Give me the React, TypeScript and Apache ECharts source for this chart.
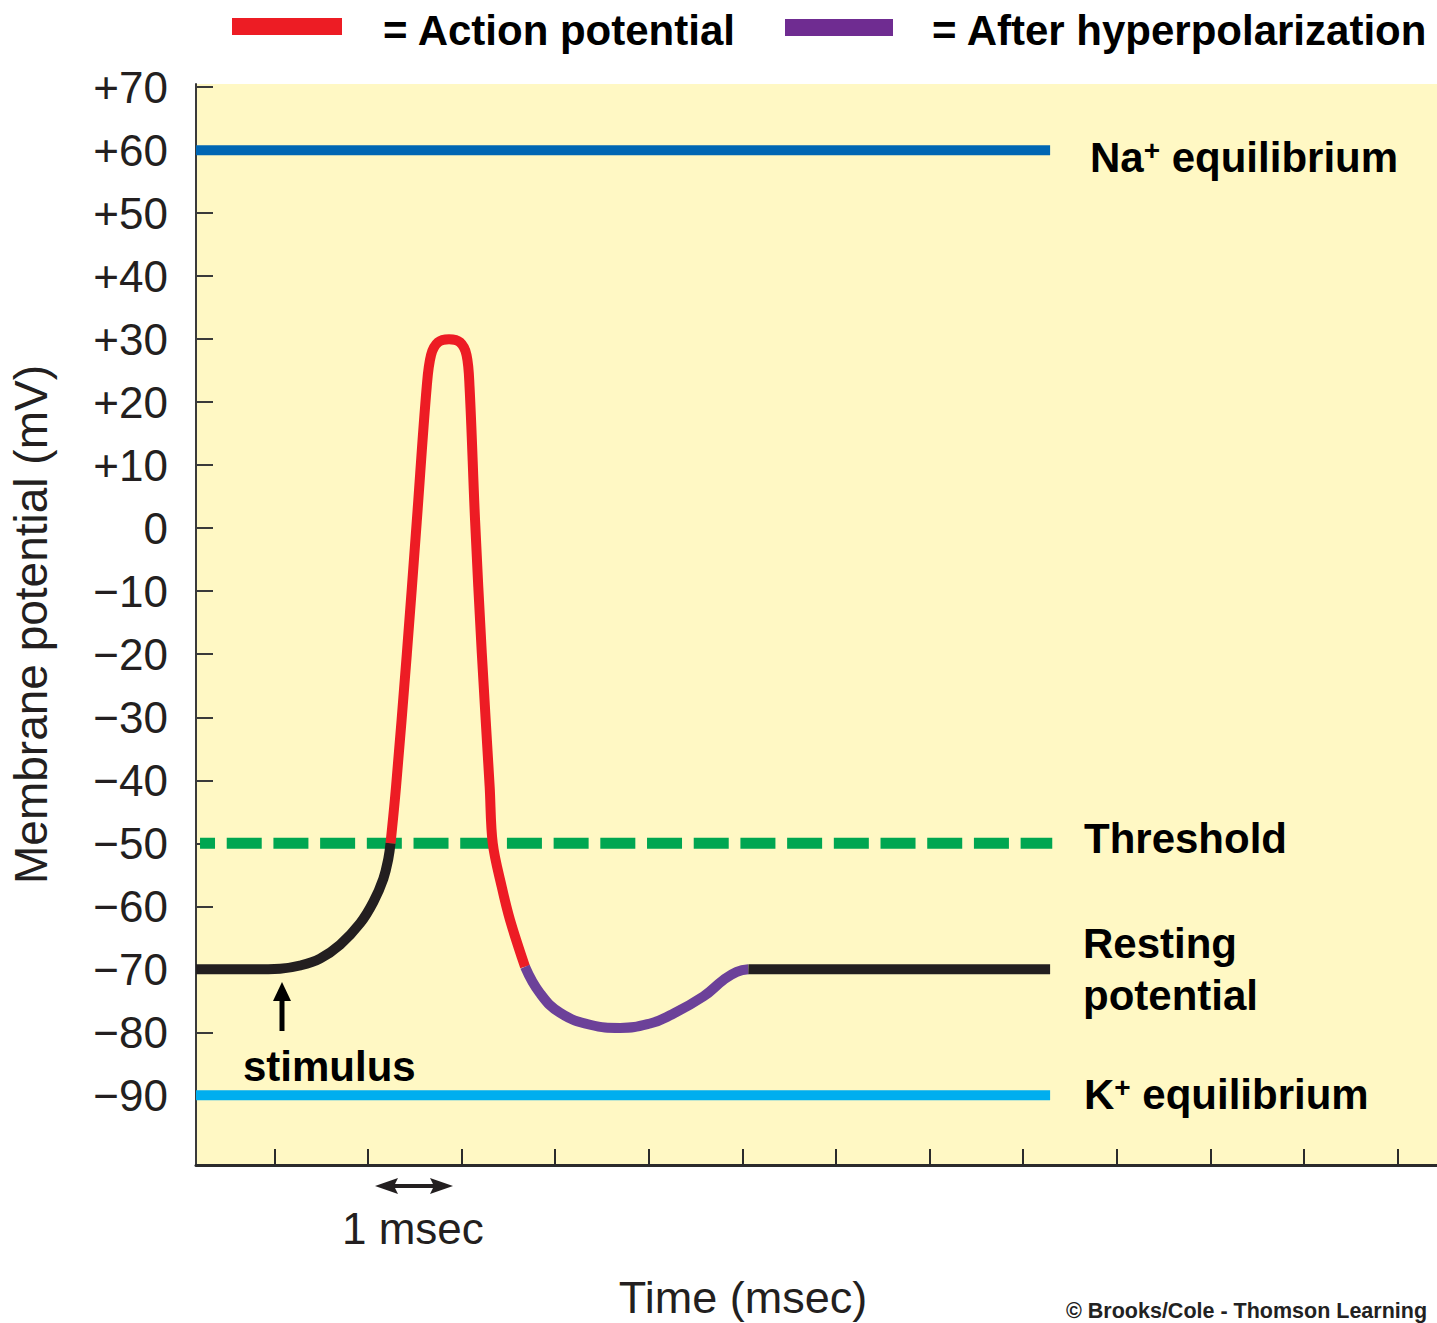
import React, { useEffect, useRef } from "react";
import * as echarts from "echarts";

// ---- axis ticks ----
const yTicks = [-90, -80, -70, -60, -50, -40, -30, -20, -10, 0, 10, 20, 30, 40, 50, 60, 70];
const xTicks = [0, 1, 2, 3, 4, 5, 6, 7, 8, 9, 10, 11, 12];

// ---- reference levels (mV) ----
const naLevel = 60;
const thresholdLevel = -50;
const kLevel = -90;
const levelStart = -0.837;
const levelEnd = 8.287;
const thresholdStart = -0.794;
const thresholdEnd = 8.31;

// ---- membrane potential trace (time in msec, potential in mV) ----
const restT = [-0.837, -0.26, 0.061, 0.275, 0.488, 0.702, 0.916, 1.058, 1.165, 1.218, 1.241];
const restV = [-70, -70, -69.9, -69.4, -68.3, -66.1, -62.7, -59.3, -55.6, -52.4, -50];

const spikeT = [1.241, 1.3, 1.415, 1.521, 1.628, 1.674, 1.749, 1.866, 1.983, 2.053, 2.085, 2.144, 2.216, 2.3, 2.333, 2.429, 2.518, 2.678];
const spikeV = [-50, -41, -20, 1, 22.5, 27.5, 29.5, 30, 29.5, 27.5, 22.5, 1.3, -19.8, -41, -50, -56.9, -62.2, -69.6];

const ahpT = [2.678, 2.838, 3.052, 3.373, 3.694, 4.014, 4.228, 4.584, 4.797, 4.94, 5.064];
const ahpV = [-69.6, -73.8, -76.9, -78.8, -79.3, -78.6, -77.3, -74.3, -71.7, -70.4, -70];

const recoverT = [5.064, 8.287];
const recoverV = [-70, -70];

const FF = "'Liberation Sans', Arial, Helvetica, sans-serif";
const INK = "#231f20";

const zip = (t: number[], v: number[]) => t.map((x, i) => [x, v[i]]);

export default function App() {
  const ref = useRef<HTMLDivElement>(null);

  useEffect(() => {
    document.body.style.margin = "0";
    if (!ref.current) return;
    const chart = echarts.init(ref.current, null, { renderer: "svg" });

    const traceSeries = (data: number[][], color: string, smooth: number) => ({
      type: "line",
      data,
      showSymbol: false,
      symbol: "none",
      smooth,
      silent: true,
      lineStyle: { color, width: 10, cap: "butt" },
    });

    const levelSeries = (y: number, color: string, width: number, extra: any = {}, start = levelStart, end = levelEnd) => ({
      type: "line",
      data: [
        [start, y],
        [end, y],
      ],
      showSymbol: false,
      symbol: "none",
      silent: true,
      lineStyle: { color, width, ...extra },
    });

    const boldText = (text: string, x: number, y: number, size = 42, align = "left") => ({
      type: "text",
      x,
      y,
      style: {
        text,
        x: 0,
        y: 0,
        fontSize: size,
        fontWeight: "bold",
        fontFamily: FF,
        fill: "#000",
        align,
        verticalAlign: "middle",
        textAlign: align,
        textVerticalAlign: "middle",
      },
    });

    const ionText = (ion: string, x: number, y: number) => ({
      type: "text",
      x,
      y,
      style: {
        text: `{b|${ion}}{s|+}{b| equilibrium}`,
        x: 0,
        y: 0,
        align: "left",
        verticalAlign: "middle",
        rich: {
          b: { fontSize: 42, fontWeight: "bold", fontFamily: FF, fill: "#000" },
          s: { fontSize: 28, fontWeight: "bold", fontFamily: FF, fill: "#000", verticalAlign: "top" },
        },
      },
    });

    const option: any = {
      animation: false,
      grid: {
        left: 196,
        top: 84,
        right: 0,
        bottom: 158,
        containLabel: false,
        outerBoundsMode: "none",
        show: true,
        backgroundColor: "#fff8c4",
        borderWidth: 0,
      },
      xAxis: {
        type: "value",
        min: -0.837,
        max: 12.42,
        axisLine: { show: true, onZero: false, lineStyle: { color: "#2b2b2b", width: 3 } },
        axisTick: {
          show: true,
          inside: true,
          length: 16,
          customValues: xTicks,
          lineStyle: { color: "#2b2b2b", width: 2 },
        },
        axisLabel: { show: false },
        splitLine: { show: false },
      },
      yAxis: {
        type: "value",
        min: -101.06,
        max: 70.5,
        name: "Membrane potential (mV)",
        nameLocation: "middle",
        nameRotate: 90,
        nameGap: 142,
        nameTextStyle: { fontSize: 46, color: INK, fontFamily: FF },
        axisLine: { show: true, onZero: false, lineStyle: { color: "#3a3a3a", width: 2 } },
        axisTick: {
          show: true,
          inside: true,
          length: 17,
          customValues: yTicks,
          lineStyle: { color: "#3a3a3a", width: 2 },
        },
        axisLabel: {
          customValues: yTicks,
          margin: 28,
          fontSize: 44,
          color: INK,
          fontFamily: FF,
          formatter: (v: number) => (v > 0 ? "+" + v : v < 0 ? "\u2212" + Math.abs(v) : "0"),
        },
        splitLine: { show: false },
      },
      series: [
        levelSeries(naLevel, "#0066b3", 10),
        levelSeries(kLevel, "#00aeef", 10),
        levelSeries(thresholdLevel, "#00a651", 11, { type: [35, 11.7], dashOffset: 20 }, thresholdStart, thresholdEnd),
        traceSeries(zip(restT, restV), INK, 0.4),
        traceSeries(zip(spikeT, spikeV), "#ed1c24", 0.35),
        traceSeries(zip(ahpT, ahpV), "#6c4199", 0.45),
        traceSeries(zip(recoverT, recoverV), INK, 0),
      ],
      graphic: [
        // legend
        { type: "rect", shape: { x: 232, y: 18, width: 110, height: 17 }, style: { fill: "#ed1c24" } },
        boldText("= Action potential", 383, 30),
        { type: "rect", shape: { x: 785, y: 19, width: 108, height: 17 }, style: { fill: "#6f2c91" } },
        boldText("= After hyperpolarization", 932, 30),
        // right labels
        ionText("Na", 1090, 157),
        boldText("Threshold", 1084, 838),
        boldText("Resting", 1083, 943),
        boldText("potential", 1083, 995),
        ionText("K", 1084, 1094),
        // stimulus
        boldText("stimulus", 243, 1066),
        {
          type: "line",
          shape: { x1: 282, y1: 1031, x2: 282, y2: 996 },
          style: { stroke: "#000", lineWidth: 5 },
        },
        {
          type: "polygon",
          shape: { points: [[273, 1001], [291, 1001], [282, 982]] },
          style: { fill: "#000" },
        },
        // 1 msec scale
        {
          type: "line",
          shape: { x1: 392, y1: 1186, x2: 437, y2: 1186 },
          style: { stroke: INK, lineWidth: 4 },
        },
        {
          type: "polygon",
          shape: { points: [[375, 1186], [398, 1178], [394, 1186], [398, 1194]] },
          style: { fill: INK },
        },
        {
          type: "polygon",
          shape: { points: [[453, 1186], [430, 1178], [434, 1186], [430, 1194]] },
          style: { fill: INK },
        },
        {
          type: "text",
          x: 342,
          y: 1228,
          style: {
            text: "1 msec",
            fontSize: 44,
            fontFamily: FF,
            fill: INK,
            align: "left",
            verticalAlign: "middle",
            textAlign: "left",
            textVerticalAlign: "middle",
          },
        },
        {
          type: "text",
          x: 743,
          y: 1297,
          style: {
            text: "Time (msec)",
            fontSize: 45,
            fontFamily: FF,
            fill: INK,
            align: "center",
            verticalAlign: "middle",
            textAlign: "center",
            textVerticalAlign: "middle",
          },
        },
        {
          type: "text",
          x: 1066,
          y: 1311,
          style: {
            text: "\u00a9 Brooks/Cole - Thomson Learning",
            fontSize: 21.5,
            fontWeight: "bold",
            fontFamily: FF,
            fill: "#222",
            align: "left",
            verticalAlign: "middle",
            textAlign: "left",
            textVerticalAlign: "middle",
          },
        },
      ],
    };

    chart.setOption(option);
    return () => chart.dispose();
  }, []);

  return <div ref={ref} style={{ width: 1437, height: 1323 }} />;
}
